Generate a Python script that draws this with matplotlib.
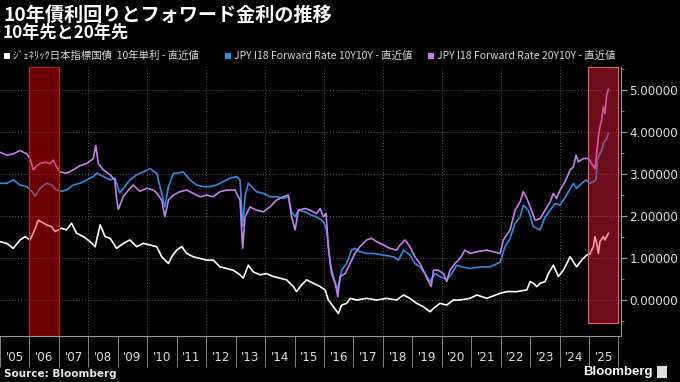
import matplotlib
matplotlib.use('Agg')
import matplotlib.pyplot as plt
from matplotlib.patches import Rectangle
from matplotlib.ticker import FixedLocator, NullFormatter, FixedFormatter, MultipleLocator, FormatStrFormatter

# ジェネリック日本指標国債 10年単利 (white)
jgb_x = [2005.00, 2005.23, 2005.45, 2005.68, 2005.85, 2006.02, 2006.13, 2006.30, 2006.41, 2006.58,
         2006.75, 2006.87, 2006.98, 2007.09, 2007.26, 2007.43, 2007.60, 2007.83, 2008.06, 2008.23,
         2008.40, 2008.57, 2008.74, 2008.96, 2009.19, 2009.41, 2009.64, 2009.87, 2010.09, 2010.32,
         2010.49, 2010.72, 2010.83, 2011.00, 2011.17, 2011.34, 2011.56, 2011.79, 2012.02, 2012.24,
         2012.47, 2012.70, 2012.92, 2013.15, 2013.26, 2013.43, 2013.60, 2013.83, 2014.05, 2014.28,
         2014.51, 2014.73, 2014.96, 2015.07, 2015.24, 2015.41, 2015.64, 2015.87, 2016.04, 2016.15,
         2016.32, 2016.49, 2016.60, 2016.77, 2016.89, 2017.11, 2017.45, 2017.79, 2018.13, 2018.47,
         2018.70, 2018.92, 2019.15, 2019.38, 2019.60, 2019.72, 2019.94, 2020.17, 2020.39, 2020.62,
         2020.96, 2021.19, 2021.53, 2021.98, 2022.21, 2022.55, 2022.89, 2023.00, 2023.11, 2023.23,
         2023.34, 2023.51, 2023.62, 2023.79, 2023.96, 2024.13, 2024.36, 2024.58, 2024.75, 2024.92,
         2025.03, 2025.15, 2025.20, 2025.26, 2025.32, 2025.37, 2025.49, 2025.54, 2025.66]
jgb_y = [1.39, 1.35, 1.23, 1.43, 1.51, 1.43, 1.59, 1.90, 1.86, 1.79,
         1.75, 1.63, 1.67, 1.71, 1.67, 1.83, 1.59, 1.51, 1.39, 1.27,
         1.79, 1.51, 1.47, 1.23, 1.35, 1.43, 1.27, 1.35, 1.31, 1.27,
         1.03, 0.87, 1.03, 1.19, 1.27, 1.11, 1.03, 0.99, 0.95, 0.95,
         0.79, 0.75, 0.71, 0.60, 0.52, 0.83, 0.67, 0.60, 0.63, 0.56,
         0.52, 0.48, 0.32, 0.20, 0.36, 0.48, 0.40, 0.32, 0.24, 0.00,
         -0.16, -0.32, -0.12, -0.08, 0.04, 0.00, 0.04, 0.00, 0.04, 0.00,
         0.12, 0.04, -0.08, -0.16, -0.28, -0.20, -0.08, -0.12, 0.00, 0.00,
         0.04, 0.12, 0.04, 0.16, 0.20, 0.20, 0.24, 0.44, 0.40, 0.32,
         0.40, 0.44, 0.63, 0.83, 0.56, 0.71, 1.03, 0.79, 0.95, 1.07,
         1.10, 1.27, 1.51, 1.35, 1.11, 1.39, 1.51, 1.43, 1.59]

# JPY I18 Forward Rate 10Y10Y (blue)
fwd10_x = [2005.00, 2005.23, 2005.45, 2005.68, 2005.91, 2006.08, 2006.19, 2006.36, 2006.58, 2006.75,
           2006.92, 2007.09, 2007.26, 2007.49, 2007.72, 2007.94, 2008.17, 2008.28, 2008.51, 2008.74,
           2008.90, 2009.07, 2009.19, 2009.41, 2009.64, 2009.87, 2010.09, 2010.32, 2010.49, 2010.60,
           2010.72, 2010.89, 2011.00, 2011.22, 2011.45, 2011.68, 2011.90, 2012.13, 2012.36, 2012.58,
           2012.81, 2013.04, 2013.15, 2013.24, 2013.32, 2013.43, 2013.71, 2013.94, 2014.17, 2014.39,
           2014.62, 2014.79, 2014.90, 2015.02, 2015.13, 2015.36, 2015.58, 2015.75, 2015.98, 2016.09,
           2016.21, 2016.32, 2016.46, 2016.60, 2016.77, 2016.94, 2017.05, 2017.22, 2017.45, 2017.68,
           2018.02, 2018.36, 2018.53, 2018.70, 2018.92, 2019.09, 2019.26, 2019.43, 2019.60, 2019.77,
           2019.94, 2020.17, 2020.34, 2020.51, 2020.68, 2020.96, 2021.30, 2021.64, 2021.98, 2022.15,
           2022.32, 2022.49, 2022.66, 2022.77, 2022.94, 2023.11, 2023.34, 2023.51, 2023.68, 2023.85,
           2024.02, 2024.24, 2024.47, 2024.58, 2024.75, 2024.90, 2025.03, 2025.15, 2025.24, 2025.28,
           2025.35, 2025.43, 2025.49, 2025.60, 2025.66]
fwd10_y = [2.78, 2.78, 2.86, 2.74, 2.70, 2.59, 2.47, 2.66, 2.78, 2.74,
           2.62, 2.59, 2.62, 2.74, 2.78, 2.86, 2.94, 3.02, 2.94, 2.86,
           2.90, 2.55, 2.66, 2.86, 2.98, 3.05, 3.13, 3.02, 2.54, 2.22,
           2.70, 3.02, 3.02, 3.05, 2.86, 2.74, 2.70, 2.70, 2.74, 2.82,
           2.90, 2.94, 2.86, 1.75, 2.46, 2.78, 2.58, 2.54, 2.46, 2.46,
           2.42, 2.46, 2.10, 1.98, 2.14, 2.10, 2.02, 1.98, 1.87, 1.67,
           0.87, 0.56, 0.24, 0.71, 0.87, 1.19, 1.23, 1.15, 1.11, 1.11,
           1.07, 1.03, 0.95, 1.19, 1.07, 0.87, 0.79, 0.63, 0.44, 0.63,
           0.56, 0.48, 0.63, 0.83, 0.79, 0.75, 0.79, 0.79, 0.90, 1.27,
           1.47, 1.83, 1.98, 2.26, 2.14, 1.75, 1.67, 1.98, 2.14, 2.30,
           2.26, 2.50, 2.78, 2.66, 2.78, 2.86, 2.78, 2.82, 2.86, 3.33,
           3.45, 3.57, 3.73, 3.85, 3.97]

# JPY I18 Forward Rate 20Y10Y (violet)
fwd20_x = [2005.00, 2005.23, 2005.45, 2005.68, 2005.91, 2006.02, 2006.13, 2006.25, 2006.36, 2006.53,
           2006.70, 2006.81, 2006.92, 2007.04, 2007.26, 2007.49, 2007.72, 2007.94, 2008.17, 2008.25,
           2008.34, 2008.51, 2008.74, 2008.90, 2008.96, 2009.02, 2009.19, 2009.41, 2009.53, 2009.64,
           2009.75, 2009.98, 2010.21, 2010.32, 2010.49, 2010.60, 2010.72, 2010.89, 2011.11, 2011.34,
           2011.56, 2011.79, 2012.02, 2012.24, 2012.47, 2012.70, 2012.98, 2013.15, 2013.24, 2013.32,
           2013.49, 2013.71, 2013.94, 2014.17, 2014.39, 2014.62, 2014.79, 2014.90, 2015.02, 2015.13,
           2015.36, 2015.53, 2015.75, 2015.87, 2015.98, 2016.07, 2016.15, 2016.26, 2016.38, 2016.47,
           2016.55, 2016.72, 2016.89, 2017.05, 2017.22, 2017.45, 2017.62, 2017.79, 2018.02, 2018.24,
           2018.47, 2018.58, 2018.75, 2018.92, 2019.09, 2019.26, 2019.43, 2019.55, 2019.64, 2019.72,
           2019.89, 2020.05, 2020.17, 2020.28, 2020.45, 2020.62, 2020.79, 2020.96, 2021.19, 2021.53,
           2021.75, 2021.98, 2022.09, 2022.32, 2022.49, 2022.66, 2022.77, 2022.89, 2023.00, 2023.17,
           2023.34, 2023.51, 2023.68, 2023.79, 2023.90, 2024.02, 2024.19, 2024.36, 2024.47, 2024.56,
           2024.64, 2024.81, 2024.98, 2025.09, 2025.20, 2025.26, 2025.32, 2025.37, 2025.43, 2025.49,
           2025.54, 2025.60, 2025.66]
fwd20_y = [3.52, 3.45, 3.48, 3.56, 3.48, 3.37, 3.10, 3.20, 3.25, 3.28,
           3.25, 3.33, 3.17, 3.05, 3.02, 3.10, 3.20, 3.25, 3.37, 3.68,
           3.25, 3.10, 2.98, 2.86, 2.40, 2.16, 2.47, 2.66, 2.74, 2.66,
           2.59, 2.66, 2.62, 2.55, 2.38, 1.98, 2.38, 2.50, 2.58, 2.62,
           2.54, 2.46, 2.50, 2.46, 2.58, 2.62, 2.62, 2.38, 1.23, 1.98,
           2.22, 2.14, 2.10, 2.22, 2.38, 2.46, 2.50, 1.98, 1.67, 2.14,
           2.18, 2.14, 2.06, 2.18, 1.98, 2.06, 1.27, 0.63, 0.40, 0.08,
           0.56, 0.63, 0.87, 1.11, 1.27, 1.43, 1.47, 1.39, 1.31, 1.23,
           1.19, 1.31, 1.43, 1.27, 1.03, 0.87, 0.63, 0.44, 0.32, 0.71,
           0.71, 0.63, 0.44, 0.71, 0.87, 0.99, 1.19, 1.11, 1.15, 1.19,
           1.15, 1.11, 1.43, 1.67, 2.14, 2.34, 2.58, 2.42, 2.22, 1.90,
           1.94, 2.14, 2.34, 2.54, 2.42, 2.62, 2.82, 3.10, 3.17, 3.45,
           3.29, 3.37, 3.37, 3.25, 3.13, 3.49, 3.89, 4.13, 4.29, 4.60,
           4.44, 4.88, 5.02]

year_labels = ["'05", "'06", "'07", "'08", "'09", "'10", "'11", "'12", "'13", "'14", "'15",
               "'16", "'17", "'18", "'19", "'20", "'21", "'22", "'23", "'24", "'25"]
y_ticks = [0, 1, 2, 3, 4, 5]

W, H = 680, 382
fig = plt.figure(figsize=(W / 100, H / 100), dpi=100, facecolor='black')
ax = fig.add_axes([0, 46 / H, 621 / W, 269 / H], facecolor='black')

def px(x, y):
    return x / W, 1 - y / H

jp = ['Noto Sans CJK JP', 'DejaVu Sans']

ax.plot(jgb_x, jgb_y, color='white', lw=1.2, zorder=2)
ax.plot(fwd10_x, fwd10_y, color='#2a8de6', lw=1.2, zorder=2)
ax.plot(fwd20_x, fwd20_y, color='#c57ef0', lw=1.2, zorder=2)

ax.set_xlim(2005.0, 2005 + 621 / 29.45)
ax.set_ylim(-0.857, 5.55)

# 網掛け期間
ax.add_patch(Rectangle((2006.0, -0.857), 1.0, 6.407, facecolor=(1, 0, 0, 0.42),
                       edgecolor=(0.85, 0.1, 0.1, 1), lw=0.8, zorder=3))
ax.add_patch(Rectangle((2024.98, -0.55), 1.02, 6.1, facecolor=(0.95, 0.12, 0.25, 0.45),
                       edgecolor=(0.95, 0.35, 0.42, 1), lw=0.8, zorder=3))

for yv in y_ticks:
    ax.axhline(yv, color='#5a5a5a', lw=0.7, ls=(0, (1, 2)), zorder=1)
for xv in range(2008, 2026, 2):
    ax.axvline(xv, color='#5a5a5a', lw=0.7, ls=(0, (1, 2)), zorder=1)

for s in ['top', 'left']:
    ax.spines[s].set_visible(False)
ax.spines['right'].set_color('#9a9a9a')
ax.spines['bottom'].set_color('#9a9a9a')
ax.yaxis.tick_right()
ax.yaxis.set_major_locator(FixedLocator(y_ticks))
ax.yaxis.set_minor_locator(MultipleLocator(0.5))
ax.yaxis.set_major_formatter(FormatStrFormatter('%.5f'))
ax.tick_params(axis='y', which='major', colors='#9a9a9a', labelcolor='#e0e0e0',
               length=4, width=0.8, labelsize=8.6, pad=2)
ax.tick_params(axis='y', which='minor', colors='#9a9a9a', length=2, width=0.6)

ax.xaxis.set_major_locator(FixedLocator(list(range(2005, 2027))))
ax.xaxis.set_major_formatter(NullFormatter())
ax.xaxis.set_minor_locator(FixedLocator([2005.5 + i for i in range(len(year_labels))]))
ax.xaxis.set_minor_formatter(FixedFormatter(year_labels))
ax.tick_params(axis='x', which='major', colors='#9a9a9a', length=22, width=0.6)
ax.tick_params(axis='x', which='minor', length=0, labelcolor='#e0e0e0', labelsize=8.6, pad=11)

fig.text(*px(3, 15), '10年債利回りとフォワード金利の推移', color='white', fontsize=13.8,
         fontweight='bold', family=jp, va='center', ha='left')
fig.text(*px(3, 33), '10年先と20年先', color='white', fontsize=12.3,
         fontweight='bold', family=jp, va='center', ha='left')

leg = [(4, 'white', 'ｼﾞｪﾈﾘｯｸ日本指標国債  10年単利 - 直近値'),
       (225, '#2a8de6', 'JPY I18 Forward Rate 10Y10Y - 直近値'),
       (428, '#c57ef0', 'JPY I18 Forward Rate 20Y10Y - 直近値')]
for lx, col, lab in leg:
    fig.patches.append(Rectangle(px(lx, 59), 6 / W, 6 / H, transform=fig.transFigure,
                                 facecolor=col, edgecolor='none'))
    fig.text(*px(lx + 9, 56), lab, color='#d8d8d8', fontsize=7.5, family=jp,
             va='center', ha='left')

fig.text(*px(4, 374), 'Source: Bloomberg', color='#e8e8e8', fontsize=7.5, fontweight='bold',
         family='DejaVu Sans', va='center', ha='left')
fig.text(*px(653, 372), 'Bloomberg', color='white', fontsize=9.5, fontweight='bold',
         family='Liberation Sans', va='center', ha='right')
fig.patches.append(Rectangle(px(657, 378), 10 / W, 12 / H, transform=fig.transFigure,
                             facecolor='#dddddd', edgecolor='none'))

fig.savefig('out.png', dpi=100, facecolor='black')
